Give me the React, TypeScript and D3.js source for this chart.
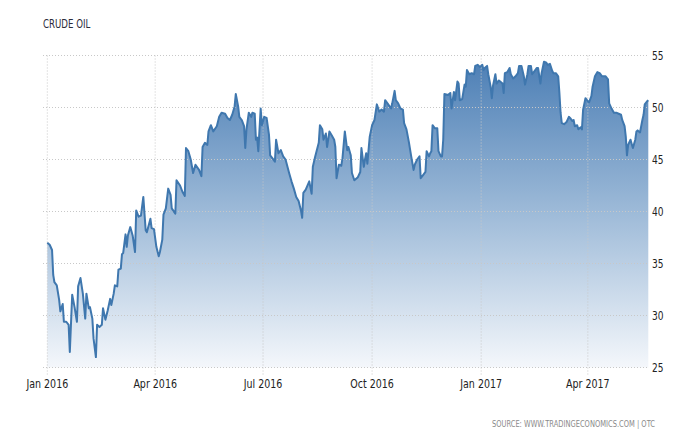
import React from "react";
import * as d3 from "d3";

const TITLE = "CRUDE OIL";
const SOURCE = "SOURCE: WWW.TRADINGECONOMICS.COM | OTC";
const START_DATE = "2016-01-01";

// days elapsed since START_DATE
const dayOffsets = [
  0, 2, 4, 5, 6, 8, 10, 11, 13, 14, 16, 18, 19, 21, 23, 25, 26, 28, 30, 32, 33, 35, 36, 38, 39, 41, 42, 44, 46, 47, 49,
  51, 53, 54, 56, 57, 59, 60, 62, 63, 64, 66, 67, 68, 70, 72, 74, 75, 77, 79, 81, 83, 84, 87, 88, 90, 92, 94, 95, 97,
  98, 100, 102, 104, 105, 108, 109, 112, 114, 116, 117, 119, 121, 123, 125, 128, 130, 131, 133, 135, 136, 138, 140,
  143, 145, 147, 150, 152, 154, 156, 158, 159, 161, 162, 164, 166, 167, 168, 170, 172, 173, 175, 176, 177, 178, 180,
  181, 183, 185, 187, 188, 190, 192, 193, 195, 197, 199, 201, 204, 206, 208, 210, 212, 214, 215, 216, 218, 221, 223,
  224, 226, 229, 230, 232, 233, 235, 236, 238, 240, 242, 243, 244, 246, 248, 249, 251, 253, 254, 256, 257, 259, 262,
  264, 265, 267, 268, 269, 270, 272, 274, 276, 278, 280, 282, 284, 285, 287, 290, 291, 293, 294, 296, 298, 300, 301,
  303, 305, 307, 309, 310, 312, 314, 315, 317, 319, 320, 322, 323, 324, 325, 327, 329, 330, 332, 333, 334, 335, 338,
  340, 341, 343, 344, 346, 347, 348, 350, 352, 353, 354, 356, 358, 360, 361, 363, 365, 367, 368, 369, 371, 372, 374,
  375, 376, 378, 379, 381, 384, 385, 386, 388, 390, 391, 393, 395, 397, 398, 400, 402, 403, 405, 406, 408, 409, 411,
  413, 414, 416, 417, 419, 421, 422, 424, 426, 427, 429, 431, 432, 433, 434, 436, 438, 440, 441, 443, 444, 445, 447,
  448, 450, 451, 452, 454, 456, 457, 459, 460, 462, 464, 466, 468, 471, 473, 474, 476, 478, 480, 482, 484, 485, 487,
  488, 489, 490, 492, 493, 494, 496, 497, 498, 500, 502, 503, 504, 506, 507,
];

const prices = [
  37.0, 36.8, 36.3, 33.9, 33.2, 32.9, 31.5, 30.4, 31.1, 29.4, 29.4, 29.1, 26.5, 32.0, 30.8, 29.4, 32.8, 33.6, 32.1,
  29.7, 32.1, 30.7, 30.8, 29.7, 27.8, 26.0, 29.1, 28.9, 29.1, 30.7, 29.6, 30.5, 31.6, 31.0, 32.1, 32.9, 32.8, 34.4,
  34.5, 35.9, 36.0, 37.8, 36.6, 37.7, 38.5, 37.7, 36.1, 40.1, 39.5, 39.6, 41.4, 38.2, 38.0, 39.3, 38.4, 38.3, 36.6,
  35.7, 36.1, 37.3, 39.7, 40.3, 42.2, 41.6, 40.3, 39.8, 43.0, 42.5, 41.9, 41.5, 46.1, 45.8, 45.0, 43.7, 44.5, 44.0,
  43.4, 46.2, 46.6, 46.4, 47.7, 48.3, 47.7, 48.2, 49.1, 49.5, 49.4, 49.0, 48.8, 49.3, 50.1, 51.3, 50.1, 49.1, 48.8,
  48.2, 46.1, 47.9, 49.5, 49.1, 49.5, 49.4, 46.9, 47.1, 45.8, 49.9, 48.3, 49.1, 49.0, 47.4, 45.4, 45.1, 44.8, 46.9,
  45.6, 45.9, 45.3, 45.0, 43.7, 42.9, 42.2, 41.4, 41.0, 40.1, 39.4, 41.8, 42.1, 42.9, 41.7, 44.3, 45.3, 46.6, 48.3,
  47.9, 46.9, 47.5, 46.2, 47.7, 47.3, 46.9, 46.2, 43.2, 44.5, 44.4, 45.1, 47.7, 45.9, 46.2, 45.4, 43.7, 43.0, 43.3,
  43.8, 46.1, 44.3, 45.0, 45.6, 44.6, 47.2, 48.3, 48.8, 50.3, 49.6, 49.8, 49.6, 50.7, 50.4, 49.9, 50.4, 51.6, 50.7,
  50.4, 49.9, 49.8, 48.5, 47.9, 46.7, 45.3, 44.0, 44.5, 45.0, 45.3, 43.2, 43.5, 43.8, 45.8, 45.3, 45.6, 45.8, 48.3,
  48.0, 48.0, 45.8, 45.3, 45.3, 46.9, 51.3, 51.2, 51.4, 49.9, 51.5, 50.7, 52.5, 52.3, 50.7, 50.8, 52.2, 52.0, 53.6,
  53.2, 53.3, 53.2, 54.0, 54.1, 53.9, 54.1, 53.6, 53.8, 54.0, 53.2, 52.0, 50.9, 52.1, 53.2, 52.3, 52.6, 52.3, 51.4,
  53.3, 53.4, 53.8, 53.2, 52.8, 53.0, 53.3, 54.0, 54.0, 53.0, 52.2, 53.2, 54.0, 54.0, 53.2, 53.5, 53.8, 53.8, 52.3,
  53.3, 54.4, 54.3, 54.1, 54.2, 53.5, 53.3, 53.3, 53.0, 51.4, 49.5, 48.5, 48.4, 48.6, 49.1, 49.0, 48.7, 48.8, 48.2,
  48.3, 47.9, 48.1, 47.9, 49.8, 50.9, 50.6, 50.5, 51.1, 52.0, 53.0, 53.4, 53.3, 53.0, 53.0, 52.7, 50.4, 49.9, 49.5,
  49.5, 49.4, 49.3, 48.8, 48.2, 47.2, 45.4, 46.4, 46.9, 46.5, 46.1, 46.9, 47.7, 47.8, 47.6, 48.8, 49.3, 50.3, 50.6,
  50.7,
];

const yTicks = [25, 30, 35, 40, 45, 50, 55];
const xTickDates = ["2016-01-01", "2016-04-01", "2016-07-01", "2016-10-01", "2017-01-01", "2017-04-01"];
const xTickLabels = ["Jan 2016", "Apr 2016", "Jul 2016", "Oct 2016", "Jan 2017", "Apr 2017"];

const W = 700;
const H = 440;
const FONT = "'Liberation Sans Narrow', 'DejaVu Sans Condensed', 'Arial Narrow', sans-serif";

function NText(props: {
  x: number;
  y: number;
  sx: number;
  size: number;
  fill: string;
  anchor?: string;
  dy?: string;
  children: React.ReactNode;
}) {
  return (
    <text
      transform={`translate(${props.x},${props.y}) scale(${props.sx},1)`}
      fontSize={props.size}
      fill={props.fill}
      textAnchor={props.anchor || "start"}
      dy={props.dy}
    >
      {props.children}
    </text>
  );
}

export default function App() {
  const start = d3.timeParse("%Y-%m-%d")(START_DATE) as Date;
  const data = dayOffsets.map((d, i) => ({ date: d3.timeDay.offset(start, d), value: prices[i] }));
  const end = d3.timeDay.offset(start, dayOffsets[dayOffsets.length - 1]);

  const x = d3.scaleTime().domain([start, end]).range([47.3, 648.3]);
  const y = d3.scaleLinear().domain([25, 55]).range([367.5, 55.5]);

  const line = d3
    .line<{ date: Date; value: number }>()
    .x((d) => x(d.date))
    .y((d) => y(d.value));
  const area = d3
    .area<{ date: Date; value: number }>()
    .x((d) => x(d.date))
    .y0(y(25))
    .y1((d) => y(d.value));

  const tickDates = xTickDates.map((s) => d3.timeParse("%Y-%m-%d")(s) as Date);

  return (
    <svg
      width={W}
      height={H}
      style={{ position: "absolute", left: 0, top: 0, background: "#fff" }}
      fontFamily={FONT}
    >
      <defs>
        <linearGradient id="fillGrad" gradientUnits="userSpaceOnUse" x1="0" y1={y(55)} x2="0" y2={y(25)}>
          <stop offset="0%" stopColor="#4a7db4" />
          <stop offset="50%" stopColor="#9dbad8" />
          <stop offset="100%" stopColor="#f4f7fb" />
        </linearGradient>
      </defs>
      <rect width={W} height={H} fill="#fff" />
      <NText x={43} y={28} sx={0.8} size={12} fill="#2b2b3a">
        {TITLE}
      </NText>
      <path d={area(data) || ""} fill="url(#fillGrad)" />
      {yTicks.map((t) => (
        <line
          key={"h" + t}
          x1={43}
          x2={648}
          y1={y(t)}
          y2={y(t)}
          stroke="#c8c8c8"
          strokeWidth={1}
          strokeDasharray="1,2"
        />
      ))}
      {tickDates.map((d, i) => (
        <line
          key={"v" + i}
          x1={x(d)}
          x2={x(d)}
          y1={y(55)}
          y2={375}
          stroke="#c8c8c8"
          strokeWidth={1}
          strokeDasharray="1,2"
        />
      ))}
      <path d={line(data) || ""} fill="none" stroke="#3f77ae" strokeWidth={2} strokeLinejoin="round" />
      {yTicks.map((t) => (
        <NText key={"yl" + t} x={652} y={y(t)} sx={0.84} dy="0.35em" size={12} fill="#222">
          {t}
        </NText>
      ))}
      {tickDates.map((d, i) => (
        <NText key={"xl" + i} x={x(d)} y={388} sx={0.88} anchor="middle" size={12} fill="#222">
          {xTickLabels[i]}
        </NText>
      ))}
      <NText x={655} y={427} sx={0.83} anchor="end" size={9} fill="#8a8a8a">
        {SOURCE}
      </NText>
    </svg>
  );
}
